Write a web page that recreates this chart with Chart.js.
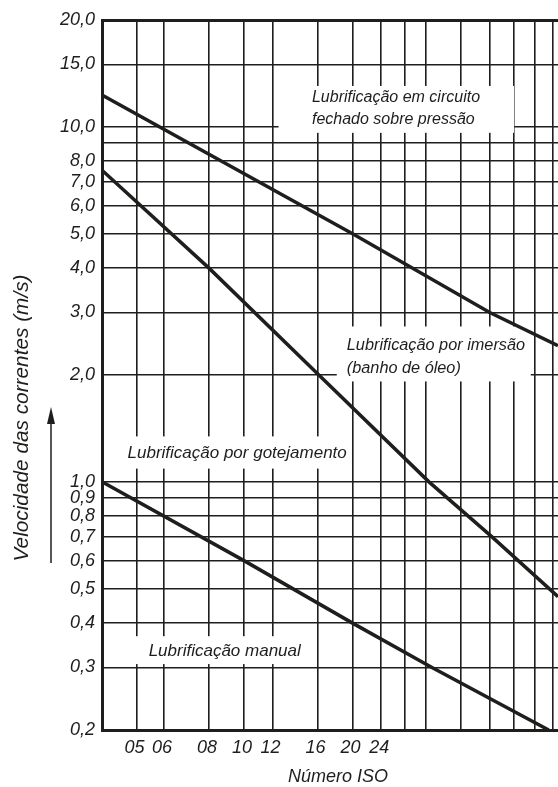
<!DOCTYPE html>
<html><head><meta charset="utf-8">
<script src="https://cdn.jsdelivr.net/npm/chart.js@4.4.1/dist/chart.umd.min.js"></script>
<style>html,body{margin:0;padding:0;background:#fff;}canvas{display:block;}</style>
</head><body>
<canvas id="c" width="558" height="787"></canvas>
<script>
// ISO chain numbers and their pitch (mm) — the x axis is logarithmic in pitch
const isoNumbers = ['05','06','08','10','12','16','20','24','28','32','40','48','56','64','72'];
const pitchMm    = [8, 9.525, 12.7, 15.875, 19.05, 25.4, 31.75, 38.1, 44.45, 50.8, 63.5, 76.2, 88.9, 101.6, 114.3];
const labeledIso = ['05','06','08','10','12','16','20','24'];
const xRange = [6.415, 117.8];   // pitch at the left border / right edge

// velocity grid values and their labels (m/s)
const yGridValues = [0.2,0.3,0.4,0.5,0.6,0.7,0.8,0.9,1,2,3,4,5,6,7,8,9,10,15,20];
const yTickLabels = ['0,2','0,3','0,4','0,5','0,6','0,7','0,8','0,9','1,0','2,0','3,0','4,0','5,0','6,0','7,0','8,0','','10,0','15,0','20,0'];

// series (pitch mm, velocity m/s)
const circuitoX   = [6.415, 31.75, 76.2, 117.8];
const circuitoVel = [12.3, 5.0, 3.0, 2.42];
const imersaoX    = [6.415, 12.7, 25.6, 51.7, 77.3, 117.8];
const imersaoVel  = [7.55, 4.0, 2.0, 1.0, 0.7, 0.475];
const manualX     = [6.415, 15.875, 31.75, 52.7, 111];
const manualVel   = [1.0, 0.6, 0.4, 0.3, 0.2];

// annotation texts (anchored in data coordinates)
const annotations = [
  {lines:['Lubrificação em circuito','fechado sobre pressão'], x:24.5, y:[12.07,10.46], size:16, box:[19.8,89,13.04,9.62]},
  {lines:['Lubrificação por imersão','(banho de óleo)'], x:30.6, y:[2.42,2.09], size:16.3, box:[28.7,99,2.74,1.918]},
  {lines:['Lubrificação por gotejamento'], x:7.55, y:[1.203], size:17, box:[6.86,31.4,1.343,1.09]},
  {lines:['Lubrificação manual'], x:8.64, y:[0.3337], size:17, box:[7.45,24.8,0.3675,0.3067]}
];
const yTitle = 'Velocidade das correntes (m/s)';
const xTitle = 'Número ISO';

const FONT = "'Liberation Sans', Arial, Helvetica, sans-serif";
const INK = '#1e1e1c';

const decor = {
  id:'decor',
  beforeDatasetsDraw(chart){
    const ctx = chart.ctx, xs = chart.scales.x, ys = chart.scales.y;
    ctx.save();
    annotations.forEach(a=>{
      const x0 = xs.getPixelForValue(a.box[0]), x1 = xs.getPixelForValue(a.box[1]);
      const y0 = ys.getPixelForValue(a.box[2]), y1 = ys.getPixelForValue(a.box[3]);
      ctx.fillStyle = '#fff';
      ctx.fillRect(x0, y0, x1-x0, y1-y0);
      ctx.fillStyle = INK;
      ctx.font = `italic ${a.size}px ${FONT}`;
      ctx.textAlign = 'left'; ctx.textBaseline = 'middle';
      a.lines.forEach((t,i)=>ctx.fillText(t, xs.getPixelForValue(a.x), ys.getPixelForValue(a.y[i])));
    });
    ctx.restore();
  },
  afterDraw(chart){
    const ctx = chart.ctx;
    ctx.save();
    ctx.fillStyle = INK; ctx.strokeStyle = INK;
    ctx.font = `italic 20.8px ${FONT}`;
    ctx.textAlign='center'; ctx.textBaseline='middle';
    ctx.translate(22, 418); ctx.rotate(-Math.PI/2);
    ctx.fillText(yTitle, 0, 0);
    ctx.setTransform(1,0,0,1,0,0);
    ctx.lineWidth = 1.5;
    ctx.beginPath(); ctx.moveTo(51, 563); ctx.lineTo(51, 420); ctx.stroke();
    ctx.beginPath(); ctx.moveTo(51, 407); ctx.lineTo(47, 424); ctx.lineTo(55, 424); ctx.closePath(); ctx.fill();
    ctx.font = `italic 18px ${FONT}`;
    ctx.fillText(xTitle, 338, 777);
    ctx.restore();
  }
};

const mk = (xArr, yArr, label) => ({
  label, data: xArr.map((x,i)=>({x, y:yArr[i]})),
  borderColor: INK, borderWidth: 3.5, pointRadius: 0, tension: 0, fill:false
});

new Chart(document.getElementById('c'), {
  type:'line',
  data:{ datasets:[ mk(circuitoX, circuitoVel, 'circuito'), mk(imersaoX, imersaoVel, 'imersão'), mk(manualX, manualVel, 'manual') ] },
  options:{
    responsive:false, animation:false, devicePixelRatio:1,
    layout:{ padding:{ top:20, right:0, left:0, bottom:0 } },
    plugins:{ legend:{display:false}, tooltip:{enabled:false} },
    scales:{
      x:{
        type:'logarithmic', min:xRange[0], max:xRange[1],
        afterBuildTicks: s => { s.ticks = pitchMm.map(v=>({value:v})); },
        afterFit: s => { s.height = 57; s.paddingRight = 0; s.paddingLeft = 0; },
        grid:{ color:INK, lineWidth:1.6, drawTicks:false },
        border:{ display:true, color:INK, width:3 },
        ticks:{ autoSkip:false, maxRotation:0, padding:7, labelOffset:-2, color:INK,
          font:{ family:FONT, size:18, style:'italic' },
          callback:(v,i)=> labeledIso.includes(isoNumbers[i]) ? isoNumbers[i] : '' }
      },
      y:{
        type:'logarithmic', min:0.2, max:20,
        afterBuildTicks: s => { s.ticks = yGridValues.map(v=>({value:v})); },
        afterFit: s => { s.width = 102; },
        grid:{ color:INK, lineWidth: c => (c.tick && c.tick.value===20) ? 3 : 1.6, drawTicks:false },
        border:{ display:true, color:INK, width:3 },
        ticks:{ autoSkip:false, padding:7, color:INK,
          font:{ family:FONT, size:18, style:'italic' },
          callback:(v,i)=> yTickLabels[i] }
      }
    }
  },
  plugins:[decor]
});
</script>
</body></html>
